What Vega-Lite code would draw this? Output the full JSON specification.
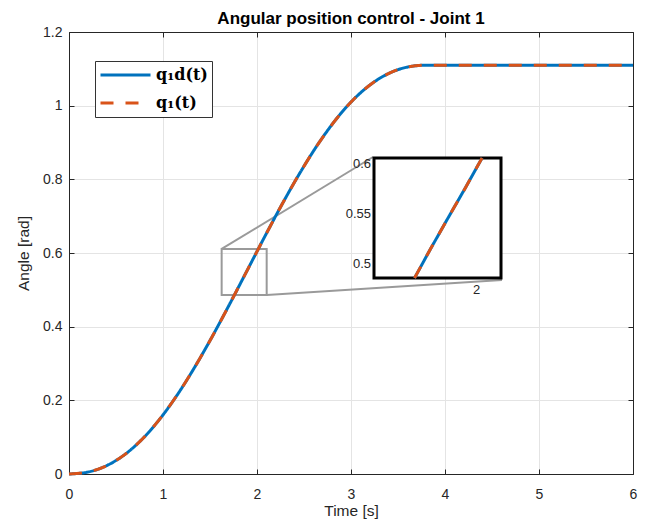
{
  "$schema": "https://vega.github.io/schema/vega-lite/v6.json",
  "width": 564,
  "height": 442,
  "autosize": "none",
  "padding": {"left": 69, "top": 32, "right": 24, "bottom": 49},
  "background": "white",
  "config": {"font": "Liberation Sans", "view": {"stroke": null}},
  "title": {"text": "Angular position control - Joint 1", "font": "Liberation Sans", "fontSize": 17, "fontWeight": "bold", "color": "#000000", "offset": -3, "anchor": "middle"},
  "datasets": {
    "traj": [
      {"t": 0, "q1d": 0, "q1": 0},
      {"t": 0.19, "q1d": 0.0047, "q1": 0.0047},
      {"t": 0.38, "q1d": 0.0203, "q1": 0.0203},
      {"t": 0.57, "q1d": 0.0485, "q1": 0.0485},
      {"t": 0.76, "q1d": 0.0899, "q1": 0.0899},
      {"t": 0.95, "q1d": 0.1442, "q1": 0.1442},
      {"t": 1.14, "q1d": 0.2104, "q1": 0.2104},
      {"t": 1.33, "q1d": 0.2869, "q1": 0.2869},
      {"t": 1.52, "q1d": 0.3715, "q1": 0.3715},
      {"t": 1.71, "q1d": 0.4618, "q1": 0.4618},
      {"t": 1.9, "q1d": 0.555, "q1": 0.555},
      {"t": 2.09, "q1d": 0.6482, "q1": 0.6482},
      {"t": 2.28, "q1d": 0.7385, "q1": 0.7385},
      {"t": 2.47, "q1d": 0.8231, "q1": 0.8231},
      {"t": 2.66, "q1d": 0.8996, "q1": 0.8996},
      {"t": 2.85, "q1d": 0.9658, "q1": 0.9658},
      {"t": 3.04, "q1d": 1.0201, "q1": 1.0201},
      {"t": 3.23, "q1d": 1.0615, "q1": 1.0615},
      {"t": 3.42, "q1d": 1.0897, "q1": 1.0897},
      {"t": 3.61, "q1d": 1.1053, "q1": 1.1053},
      {"t": 3.8, "q1d": 1.11, "q1": 1.11},
      {"t": 4.0, "q1d": 1.11, "q1": 1.11},
      {"t": 4.5, "q1d": 1.11, "q1": 1.11},
      {"t": 5.0, "q1d": 1.11, "q1": 1.11},
      {"t": 5.5, "q1d": 1.11, "q1": 1.11},
      {"t": 6.0, "q1d": 1.11, "q1": 1.11}
    ],
    "zoomed": [
      {"t": 1.77, "q1d": 0.486, "q1": 0.486},
      {"t": 1.83, "q1d": 0.5155, "q1": 0.5155},
      {"t": 1.895, "q1d": 0.5465, "q1": 0.5465},
      {"t": 1.96, "q1d": 0.577, "q1": 0.577},
      {"t": 2.02, "q1d": 0.606, "q1": 0.606}
    ],
    "zoomYTicks": [
      {"v": 0.5, "lab": "0.5"},
      {"v": 0.55, "lab": "0.55"},
      {"v": 0.6, "lab": "0.6"}
    ],
    "one": [{}]
  },
  "layer": [
    {
      "layer": [
        {
          "data": {"name": "one"},
          "mark": {"type": "rect", "fillOpacity": 0, "stroke": "#9a9a9a", "strokeWidth": 2},
          "encoding": {
            "x": {"datum": 1.624, "type": "quantitative", "scale": {"domain": [0, 6], "nice": false}, "axis": null},
            "x2": {"datum": 2.103},
            "y": {"datum": 0.486, "type": "quantitative", "scale": {"domain": [0, 1.2], "nice": false}, "axis": null},
            "y2": {"datum": 0.611}
          }
        },
        {
          "data": {"name": "one"},
          "mark": {"type": "rule", "stroke": "#9a9a9a", "strokeWidth": 2},
          "encoding": {
            "x": {"datum": 1.624, "type": "quantitative", "scale": {"domain": [0, 6], "nice": false}, "axis": null},
            "x2": {"datum": 3.234},
            "y": {"datum": 0.611, "type": "quantitative", "scale": {"domain": [0, 1.2], "nice": false}, "axis": null},
            "y2": {"datum": 0.8606}
          }
        },
        {
          "data": {"name": "one"},
          "mark": {"type": "rule", "stroke": "#9a9a9a", "strokeWidth": 2},
          "encoding": {
            "x": {"datum": 2.103, "type": "quantitative", "scale": {"domain": [0, 6], "nice": false}, "axis": null},
            "x2": {"datum": 4.606},
            "y": {"datum": 0.486, "type": "quantitative", "scale": {"domain": [0, 1.2], "nice": false}, "axis": null},
            "y2": {"datum": 0.5267}
          }
        },
        {
          "data": {"name": "traj"},
          "mark": {"type": "line", "strokeWidth": 3, "interpolate": "monotone"},
          "encoding": {
            "x": {"field": "t", "type": "quantitative", "scale": {"domain": [0, 6], "nice": false},
              "axis": {"orient": "bottom", "title": "Time [s]", "values": [0, 1, 2, 3, 4, 5, 6], "format": "~g", "grid": true, "gridColor": "#e4e4e4", "gridWidth": 1, "domainColor": "#262626", "domainWidth": 1, "tickColor": "#262626", "tickSize": -5, "labelPadding": 18, "labelFontSize": 14, "labelColor": "#262626", "labelFont": "Liberation Sans", "titleFont": "Liberation Sans", "titleFontSize": 15.5, "titleFontWeight": "normal", "titleColor": "#262626", "titlePadding": 2, "labelFlush": false}},
            "y": {"field": "q1d", "type": "quantitative", "scale": {"domain": [0, 1.2], "nice": false},
              "axis": {"orient": "left", "title": "Angle [rad]", "values": [0, 0.2, 0.4, 0.6, 0.8, 1, 1.2], "format": "~g", "grid": true, "gridColor": "#e4e4e4", "gridWidth": 1, "domainColor": "#262626", "domainWidth": 1, "tickColor": "#262626", "tickSize": -5, "labelPadding": 12, "labelFontSize": 14, "labelColor": "#262626", "labelFont": "Liberation Sans", "titleFont": "Liberation Sans", "titleFontSize": 15.5, "titleFontWeight": "normal", "titleColor": "#262626", "titlePadding": 11, "labelFlush": false}},
            "color": {"datum": "q₁d(t)", "type": "nominal",
              "scale": {"domain": ["q₁d(t)", "q₁(t)"], "range": ["#0072BD", "#D95319"]},
              "legend": {"orient": "none", "legendX": 26, "legendY": 29, "title": null, "symbolType": "stroke", "symbolSize": 2500, "symbolStrokeWidth": 3, "clipHeight": 20, "rowPadding": 8, "labelFont": "DejaVu Serif", "labelFontSize": 16, "labelFontWeight": "bold", "labelColor": "#000000", "labelOffset": 4, "padding": 4, "strokeColor": "#333333", "fillColor": "#ffffff", "cornerRadius": 0}},
            "strokeDash": {"datum": "q₁d(t)", "type": "nominal",
              "scale": {"domain": ["q₁d(t)", "q₁(t)"], "range": [[1, 0], [13, 12]]},
              "legend": {"orient": "none", "legendX": 26, "legendY": 29, "title": null, "symbolType": "stroke", "symbolSize": 2500, "symbolStrokeWidth": 3, "clipHeight": 20, "rowPadding": 8, "labelFont": "DejaVu Serif", "labelFontSize": 16, "labelFontWeight": "bold", "labelColor": "#000000", "labelOffset": 4, "padding": 4, "strokeColor": "#333333", "fillColor": "#ffffff", "cornerRadius": 0}}
          }
        },
        {
          "data": {"name": "traj"},
          "mark": {"type": "line", "strokeWidth": 3, "interpolate": "monotone"},
          "encoding": {
            "x": {"field": "t", "type": "quantitative", "scale": {"domain": [0, 6], "nice": false},
              "axis": {"orient": "top", "title": null, "labels": false, "grid": false, "values": [0, 1, 2, 3, 4, 5, 6], "domainColor": "#262626", "domainWidth": 1, "tickColor": "#262626", "tickSize": -5}},
            "y": {"field": "q1", "type": "quantitative", "scale": {"domain": [0, 1.2], "nice": false},
              "axis": {"orient": "right", "title": null, "labels": false, "grid": false, "values": [0, 0.2, 0.4, 0.6, 0.8, 1, 1.2], "domainColor": "#262626", "domainWidth": 1, "tickColor": "#262626", "tickSize": -5}},
            "color": {"datum": "q₁(t)", "type": "nominal"},
            "strokeDash": {"datum": "q₁(t)", "type": "nominal"}
          }
        }
      ]
    },
    {
      "layer": [
        {
          "data": {"name": "one"},
          "mark": {"type": "rect", "fill": "#ffffff", "stroke": "#000000", "strokeWidth": 3},
          "encoding": {
            "x": {"datum": 1.62, "type": "quantitative", "scale": {"domain": [1.62, 2.09], "range": [305, 432], "nice": false, "zero": false}, "axis": null},
            "x2": {"datum": 2.09},
            "y": {"datum": 0.486, "type": "quantitative", "scale": {"domain": [0.486, 0.606], "range": [246, 126], "nice": false, "zero": false}, "axis": null},
            "y2": {"datum": 0.606}
          }
        },
        {
          "data": {"name": "zoomed"},
          "mark": {"type": "line", "strokeWidth": 3},
          "encoding": {
            "x": {"field": "t", "type": "quantitative", "scale": {"domain": [1.62, 2.09], "range": [305, 432], "nice": false, "zero": false}, "axis": null},
            "y": {"field": "q1d", "type": "quantitative", "scale": {"domain": [0.486, 0.606], "range": [246, 126], "nice": false, "zero": false}, "axis": null},
            "color": {"datum": "q₁d(t)", "type": "nominal"},
            "strokeDash": {"datum": "q₁d(t)", "type": "nominal"}
          }
        },
        {
          "data": {"name": "zoomed"},
          "mark": {"type": "line", "strokeWidth": 3},
          "encoding": {
            "x": {"field": "t", "type": "quantitative", "scale": {"domain": [1.62, 2.09], "range": [305, 432], "nice": false, "zero": false}, "axis": null},
            "y": {"field": "q1", "type": "quantitative", "scale": {"domain": [0.486, 0.606], "range": [246, 126], "nice": false, "zero": false}, "axis": null},
            "color": {"datum": "q₁(t)", "type": "nominal"},
            "strokeDash": {"datum": "q₁(t)", "type": "nominal"}
          }
        },
        {
          "data": {"name": "zoomYTicks"},
          "mark": {"type": "text", "align": "right", "baseline": "middle", "dx": -3, "fontSize": 13, "font": "Liberation Sans", "color": "#262626"},
          "encoding": {
            "x": {"datum": 1.62, "type": "quantitative", "scale": {"domain": [1.62, 2.09], "range": [305, 432], "nice": false, "zero": false}, "axis": null},
            "y": {"field": "v", "type": "quantitative", "scale": {"domain": [0.486, 0.606], "range": [246, 126], "nice": false, "zero": false}, "axis": null},
            "text": {"field": "lab"}
          }
        },
        {
          "data": {"name": "one"},
          "mark": {"type": "text", "align": "center", "baseline": "top", "dy": 6, "fontSize": 13, "font": "Liberation Sans", "color": "#262626"},
          "encoding": {
            "x": {"datum": 2, "type": "quantitative", "scale": {"domain": [1.62, 2.09], "range": [305, 432], "nice": false, "zero": false}, "axis": null},
            "y": {"datum": 0.486, "type": "quantitative", "scale": {"domain": [0.486, 0.606], "range": [246, 126], "nice": false, "zero": false}, "axis": null},
            "text": {"value": "2"}
          }
        }
      ]
    }
  ],
  "resolve": {"scale": {"x": "independent", "y": "independent"}}
}
